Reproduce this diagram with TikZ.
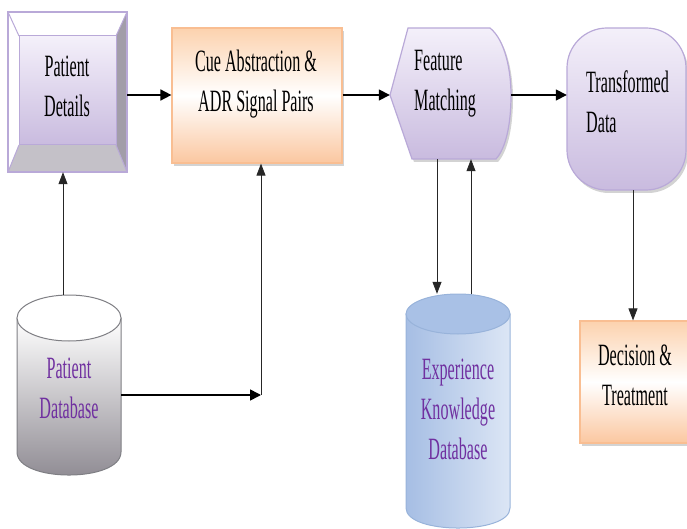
\documentclass[tikz,border=0pt]{standalone}
\usepackage{fontspec}
\newfontfamily\cond{Liberation Serif}[FakeStretch=0.52]
\usetikzlibrary{arrows.meta,shadows,calc}
\definecolor{lavB}{HTML}{B9A9D8}
\definecolor{lavT}{HTML}{F4F0FA}
\definecolor{lavM}{HTML}{DDD3EC}
\definecolor{lavD}{HTML}{C9BBDF}
\definecolor{peachB}{HTML}{F9BE92}
\definecolor{peachT}{HTML}{FCD2AE}
\definecolor{peachD}{HTML}{FBC7A0}
\definecolor{grayR}{HTML}{A29DA9}
\definecolor{grayBt}{HTML}{C4C1C8}
\definecolor{grayCyl}{HTML}{8C8890}
\definecolor{grayEdge}{HTML}{7F7F84}
\definecolor{blueL}{HTML}{A6BEE4}
\definecolor{blueR}{HTML}{DCE6F5}
\definecolor{blueTop}{HTML}{A9C1E6}
\definecolor{blueEdge}{HTML}{98B3DA}
\definecolor{dbpurple}{HTML}{7030A0}
\begin{document}
\begin{tikzpicture}[x=1pt,y=-1pt,
  txt/.style={font=\cond\fontsize{31}{40}\selectfont, align=center, inner sep=0pt},
  frame/.style={draw=none, inner sep=0pt, minimum width=#1},
  harr/.style={line width=1.6pt, -{Triangle[length=11pt,width=11pt]}},
  varr/.style={line width=0.8pt, draw=black!85, -{Triangle[length=12pt,width=9pt]}},
  peachbox/.style={draw=peachB, line width=1.2pt, top color=peachT, bottom color=peachD, middle color=white,
     drop shadow={shadow xshift=2pt, shadow yshift=-3pt, opacity=0.35}, inner sep=0pt},
  lavfill/.style={draw=lavB, line width=1.2pt, top color=lavT, bottom color=lavD,
     drop shadow={shadow xshift=2pt, shadow yshift=-3pt, opacity=0.35}}
]
\useasboundingbox (0,0) rectangle (687,529);
\begin{scope}
\clip (0,0) rectangle (687,529);
% ---------- Patient Details (bevel box)
\fill[white] (8,12) -- (127,12) -- (116,36) -- (19,36) -- cycle;
\fill[white] (8,12) -- (19,36) -- (19,145) -- (8,172) -- cycle;
\fill[grayR] (127,12) -- (127,172) -- (116,145) -- (116,36) -- cycle;
\fill[grayBt] (8,172) -- (127,172) -- (116,145) -- (19,145) -- cycle;
\shade[top color=lavT, bottom color=lavD] (19,36) rectangle (116,145);
\draw[lavB, line width=1pt] (8,12) -- (19,36) (127,12) -- (116,36) (8,172) -- (19,145) (127,172) -- (116,145);
\draw[lavB, line width=1pt] (19,36) rectangle (116,145);
\draw[lavB, line width=1.4pt] (8,12) rectangle (127,172);
\node[frame=119pt, minimum height=160pt] (pd) at (67.5,92) {};
\node[txt] (pdt) at (67,86) {Patient\\Details};
% ---------- Cue Abstraction
\node[peachbox, minimum width=170pt, minimum height=135pt] (cue) at (257,95.5) {};
\node[txt] (cuet) at (256,84) {Cue Abstraction \&\\ADR Signal Pairs};
% ---------- Feature Matching
\path[lavfill] (390,95) -- (408,28) -- (490,28) .. controls (505,40) and (511,70) .. (511,95)
   .. controls (511,124) and (506,148) .. (496,159) -- (412,159) -- cycle;
\node[frame=121pt, minimum height=131pt] (fm) at (450.5,93.5) {};
\node[txt, anchor=west, align=left] (fmt) at (414,84) {Feature\\Matching};
% ---------- Transformed Data
\path[lavfill, rounded corners=40pt] (567,28) rectangle (686,190);
\node[frame=119pt, minimum height=162pt] (td) at (626.5,109) {};
\node[txt, anchor=west, align=left] (tdt) at (586,102) {Transformed\\Data};
% ---------- Decision & Treatment
\node[peachbox, minimum width=120pt, minimum height=122pt] (dec) at (640,382) {};
\node[txt] (dect) at (635,375) {Decision \&\\Treatment};
% ---------- Patient Database cylinder
\path[draw=grayEdge, line width=1pt, top color=white, bottom color=grayCyl]
  (17,318) -- (17,452) .. controls (17,482.7) and (121,482.7) .. (121,452) -- (121,318) -- cycle;
\draw[grayEdge, line width=1pt, fill=white] (69,318) ellipse [x radius=52pt, y radius=23pt];
\node[frame=104pt, minimum height=180pt] (pdb) at (69,385) {};
\node[txt, text=dbpurple] (pdbt) at (69,388) {Patient\\Database};
% ---------- Experience Knowledge Database cylinder
\path[draw=blueEdge, line width=1pt, left color=blueL, right color=blueR]
  (406,314) -- (406,508) .. controls (406,534.7) and (510,534.7) .. (510,508) -- (510,314) -- cycle;
\draw[blueEdge, line width=1pt, fill=blueTop] (458,314) ellipse [x radius=52pt, y radius=20pt];
\node[frame=104pt, minimum height=234pt] (ekd) at (458,411) {};
\node[txt, text=dbpurple] (ekdt) at (458,409) {Experience\\Knowledge\\Database};
\end{scope}
% ---------- connectors
\coordinate (row) at (0,95);
\draw[harr] (pd.east |- row) -- (cue.west |- row);
\draw[harr] (cue.east |- row) -- (fm.west |- row);
\draw[harr] (fm.east |- row) -- (td.west |- row);
\coordinate (j1) at (63,0);
\draw[varr] (j1 |- pdb.north) -- (j1 |- pd.south);
\coordinate (c1) at (261,395);
\draw[harr] (pdb.east |- c1) -- (c1);
\draw[varr] (c1) -- (c1 |- cue.south);
\coordinate (j2) at (437,0);
\draw[varr] (j2 |- fm.south) -- (j2 |- ekd.north);
\coordinate (j4) at (471,0);
\draw[varr] (j4 |- ekd.north) -- (j4 |- fm.south);
\coordinate (j3) at (633,0);
\draw[varr] (j3 |- td.south) -- (j3 |- dec.north);
\end{tikzpicture}
\end{document}
